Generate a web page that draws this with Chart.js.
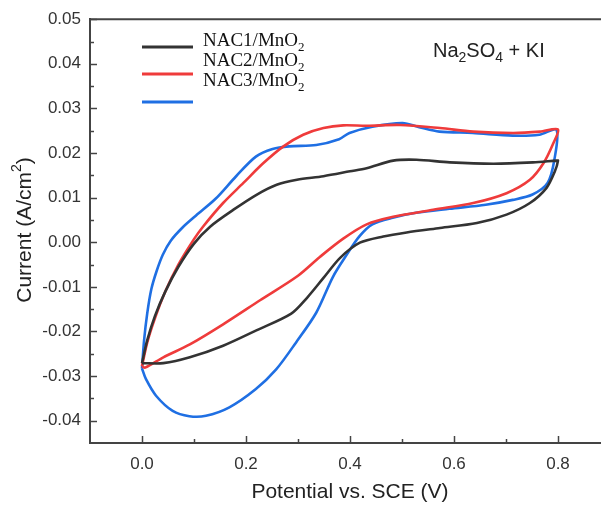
<!DOCTYPE html>
<html><head><meta charset="utf-8">
<script src="https://cdn.jsdelivr.net/npm/chart.js@4.4.0/dist/chart.umd.min.js"></script>
<style>html,body{margin:0;padding:0;overflow:hidden;background:#fff}</style>
</head><body>
<canvas id="c" width="625" height="506"></canvas>
<script>
// ---- data ----
const seriesNames = ['NAC1/MnO', 'NAC2/MnO', 'NAC3/MnO'];
const xTicks = [0.0, 0.2, 0.4, 0.6, 0.8];
const xMinorTicks = [0.1, 0.3, 0.5, 0.7];
const yTicks = [-0.04, -0.03, -0.02, -0.01, 0.00, 0.01, 0.02, 0.03, 0.04, 0.05];
const yMinorTicks = [-0.035, -0.025, -0.015, -0.005, 0.005, 0.015, 0.025, 0.035, 0.045];

const nac1X = [0, 0.01, 0.025, 0.045, 0.07, 0.1, 0.131, 0.176, 0.221, 0.259, 0.298, 0.349, 0.4, 0.432, 0.483, 0.528, 0.592, 0.676, 0.752, 0.797, 0.8,
  0.794, 0.778, 0.746, 0.701, 0.644, 0.573, 0.509, 0.464, 0.419, 0.381, 0.349, 0.317, 0.287, 0.221, 0.156, 0.092, 0.041, 0];
const nac1Y = [-0.0271, -0.022, -0.0165, -0.011, -0.0055, -0.0003, 0.0035, 0.0073, 0.0107, 0.0129, 0.014, 0.0148, 0.0159, 0.0166, 0.0183, 0.0185, 0.0179, 0.0176, 0.0179, 0.0183, 0.0183,
  0.0159, 0.0122, 0.0088, 0.0062, 0.0043, 0.0032, 0.0022, 0.0013, -0.0001, -0.0035, -0.008, -0.0125, -0.016, -0.0197, -0.0232, -0.0258, -0.0271, -0.0271];

const nac2X = [0, 0.01, 0.025, 0.045, 0.07, 0.1, 0.118, 0.156, 0.195, 0.233, 0.272, 0.31, 0.349, 0.387, 0.432, 0.496, 0.573, 0.637, 0.714, 0.765, 0.8,
  0.791, 0.772, 0.746, 0.701, 0.637, 0.56, 0.483, 0.432, 0.387, 0.342, 0.3, 0.227, 0.156, 0.092, 0.041, 0.006, 0];
const nac2Y = [-0.0278, -0.0225, -0.017, -0.011, -0.005, 0.0007, 0.0036, 0.0088, 0.0133, 0.0177, 0.0215, 0.0241, 0.0256, 0.0262, 0.0261, 0.0263, 0.0256, 0.0248, 0.0245, 0.0248, 0.0253,
  0.0222, 0.0177, 0.014, 0.011, 0.0088, 0.0073, 0.0057, 0.004, 0.0008, -0.0033, -0.0075, -0.013, -0.0184, -0.0229, -0.0258, -0.0281, -0.0278];

const nac3X = [0, 0.004, 0.01, 0.018, 0.028, 0.04, 0.055, 0.078, 0.104, 0.142, 0.181, 0.219, 0.251, 0.283, 0.335, 0.379, 0.399, 0.443, 0.501, 0.533, 0.572, 0.636, 0.713, 0.764, 0.797,
  0.793, 0.78, 0.751, 0.713, 0.661, 0.591, 0.527, 0.482, 0.443, 0.418, 0.392, 0.367, 0.335, 0.296, 0.258, 0.219, 0.168, 0.123, 0.091, 0.059, 0.027, 0.0077, 0];
const nac3Y = [-0.0283, -0.022, -0.016, -0.0105, -0.0065, -0.0028, 0.0003, 0.0033, 0.006, 0.0098, 0.0148, 0.0192, 0.0209, 0.0215, 0.0218, 0.0231, 0.0245, 0.0259, 0.0267, 0.0258, 0.0248, 0.0245, 0.0239, 0.0241, 0.0252,
  0.0185, 0.0133, 0.0107, 0.0095, 0.0084, 0.0075, 0.0066, 0.0055, 0.004, 0.0013, -0.0031, -0.0078, -0.0158, -0.0225, -0.0285, -0.0329, -0.037, -0.0389, -0.039, -0.0378, -0.0344, -0.0307, -0.0283];

const colors = ['#333333', '#ef3b3b', '#1f6fe3'];

function pts(xs, ys) { return xs.map((x, i) => ({ x: x, y: ys[i] })); }

// ---- helpers ----
function drawRich(ctx, parts, x, y, size, family, align) {
  const small = Math.round(size * 0.68);
  let total = 0;
  const w = parts.map(p => {
    ctx.font = (p[1] ? small : size) + 'px ' + family;
    const m = ctx.measureText(p[0]).width; total += m; return m;
  });
  let cx = align === 'center' ? x - total / 2 : x;
  parts.forEach((p, i) => {
    ctx.font = (p[1] ? small : size) + 'px ' + family;
    let dy = 0;
    if (p[1] === 1) dy = size * 0.25;
    if (p[1] === 2) dy = -size * 0.38;
    ctx.fillText(p[0], cx, y + dy);
    cx += w[i];
  });
}

const decor = {
  id: 'decor',
  afterDraw(chart) {
    const ctx = chart.ctx;
    const xs = chart.scales.x, ys = chart.scales.y;
    const ca = chart.chartArea;
    ctx.save();
    ctx.strokeStyle = '#444';
    ctx.lineWidth = 2;
    ctx.beginPath(); ctx.moveTo(ca.left - 1, ca.top); ctx.lineTo(ca.right + 1, ca.top); ctx.stroke();
    ctx.lineWidth = 1.5;
    const tick = (vals, len, axis) => {
      vals.forEach(v => {
        ctx.beginPath();
        if (axis === 'x') {
          const p = Math.round(xs.getPixelForValue(v)) + 0.5;
          ctx.moveTo(p, ca.bottom); ctx.lineTo(p, ca.bottom - len);
        } else {
          const p = Math.round(ys.getPixelForValue(v)) + 0.5;
          ctx.moveTo(ca.left, p); ctx.lineTo(ca.left + len, p);
        }
        ctx.stroke();
      });
    };
    tick(xTicks, 7, 'x'); tick(xMinorTicks, 4, 'x');
    tick(yTicks, 7, 'y'); tick(yMinorTicks, 4, 'y');

    ctx.fillStyle = '#222';
    ctx.textBaseline = 'middle';
    ctx.textAlign = 'left';
    drawRich(ctx, [['Potential vs. SCE (V)', 0]], 350, 492, 21, 'Arial, "Liberation Sans", sans-serif', 'center');
    ctx.save();
    ctx.translate(25, 230);
    ctx.rotate(-Math.PI / 2);
    drawRich(ctx, [['Current (A/cm', 0], ['2', 2], [')', 0]], 0, 0, 21, 'Arial, "Liberation Sans", sans-serif', 'center');
    ctx.restore();

    ctx.textBaseline = 'alphabetic';
    drawRich(ctx, [['Na', 0], ['2', 1], ['SO', 0], ['4', 1], [' + KI', 0]], 433, 57, 20, 'Arial, "Liberation Sans", sans-serif', 'left');

    const lineY = [47, 74, 102];
    const textY = [48, 68, 88];
    seriesNames.forEach((n, i) => {
      ctx.strokeStyle = colors[i];
      ctx.lineWidth = 3;
      ctx.beginPath(); ctx.moveTo(142, lineY[i]); ctx.lineTo(193, lineY[i]); ctx.stroke();
      ctx.fillStyle = '#111';
      drawRich(ctx, [[n, 0], ['2', 1]], 203, textY[i] - 2, 19, '"Liberation Serif", "Times New Roman", serif', 'left');
    });
    ctx.restore();
  }
};

new Chart(document.getElementById('c'), {
  type: 'scatter',
  data: {
    datasets: [
      { label: seriesNames[0] + '2', data: pts(nac1X, nac1Y), borderColor: colors[0] },
      { label: seriesNames[1] + '2', data: pts(nac2X, nac2Y), borderColor: colors[1] },
      { label: seriesNames[2] + '2', data: pts(nac3X, nac3Y), borderColor: colors[2] }
    ].map(d => Object.assign(d, { showLine: true, pointRadius: 0, borderWidth: 2.6, tension: 0.3, fill: false }))
  },
  options: {
    responsive: false,
    animation: false,
    layout: { padding: { left: 0, top: 18, right: 15, bottom: 0 } },
    plugins: { legend: { display: false }, tooltip: { enabled: false } },
    scales: {
      x: {
        type: 'linear', min: -0.1, max: 0.9,
        afterBuildTicks: s => { s.ticks = xTicks.map(v => ({ value: v })); },
        afterFit: s => { s.height = 63; },
        grid: { display: false, drawTicks: false },
        border: { display: true, color: '#444', width: 2 },
        ticks: { padding: 11, color: '#333', font: { family: 'Arial, "Liberation Sans", sans-serif', size: 17 },
          callback: v => Number(v).toFixed(1), maxRotation: 0, autoSkip: false }
      },
      y: {
        type: 'linear', min: -0.045, max: 0.05,
        afterBuildTicks: s => { s.ticks = yTicks.map(v => ({ value: v })); },
        afterFit: s => { s.width = 90; },
        grid: { display: false, drawTicks: false },
        border: { display: true, color: '#444', width: 2 },
        ticks: { padding: 9, color: '#333', font: { family: 'Arial, "Liberation Sans", sans-serif', size: 17 },
          callback: v => Number(v).toFixed(2), autoSkip: false }
      }
    }
  },
  plugins: [decor]
});
</script>
</body></html>
